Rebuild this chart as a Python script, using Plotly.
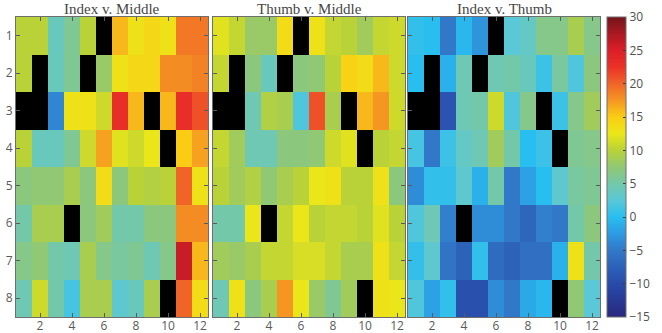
import plotly.graph_objects as go

N = None
titles = ["Index v. Middle", "Thumb v. Middle", "Index v. Thumb"]
cols = list(range(1, 13))
rows = list(range(1, 9))

index_middle = [
    [10, 10, 4, 6, 10, N, 16, 13, 14, 13, 19, 19],
    [10, N, 4, 6, N, 8, 13, 14, 14, 18, 18, 18.5],
    [N, N, -4, 13, 13, 11, 23, 16, N, 16, 23, 21],
    [10, 4, 4, 6, 11, 17, 12, 11, 12.5, N, 15, 17],
    [7, 7.5, 7.5, 9, 7, 13.5, 7, 10, 9.5, 10, 20, 13],
    [5, 9, 9, N, 7, 8.5, 5, 5, 7, 7, 18, 18],
    [6.5, 7.5, 5, 4.5, 9, 6.5, 5.5, 6, 4.5, 6.5, 26, 16],
    [4.5, 11, 5, 1.5, 9, 9, 3, 4, 9, N, 20, 13.5],
]
thumb_middle = [
    [12, 10.5, 8, 8, 13.5, N, 13, 10.5, 10, 8.5, 10.5, 11],
    [10.5, N, 7, 4, N, 7, 7.5, 10, 14.5, 13.5, 16, 11],
    [N, N, 4.5, 9.5, 9, 2, 21, 9, N, 16, 17.5, 11],
    [10.5, 8.5, 4.5, 4.5, 7, 7, 7.5, 11, 12, N, 10, 10.5],
    [10, 8.5, 9.5, 7.5, 9, 10, 12.5, 13, 10, 10, 13, 7],
    [5, 5, 12.5, N, 10.5, 12.5, 10, 10.5, 10.5, 10, 12, 10],
    [8.5, 8, 9, 10.5, 10.5, 11.5, 11.5, 10.5, 9, 9, 13, 10.5],
    [4.5, 13, 7, 9, 17.5, 12.5, 8, 6, 8.5, N, 13, 12.5],
]
index_thumb = [
    [0.5, 0, -5, -0.5, -3, N, 2.5, 3.5, 6.5, 6.5, 9, 6.5],
    [0, N, -1, 4.5, N, 4.5, 5, 4, 1, 5.5, 2, 7],
    [N, N, -9, 4.5, 5, 11, 2, 6.5, N, 1, 6.5, 8.5],
    [1.5, -5, 1, 3.5, 4.5, 8.5, 5, 0, 1, N, 6, 6.5],
    [-3.5, 0.5, 0.5, 3, -1, 5, -5, -2, 0, 3, 5.5, 6],
    [2, 4.5, -4.5, N, -3.5, -3.5, -5, -7, -4.5, -5, 5, 7],
    [0.5, 3, -5.5, -7.5, 0.5, -6.5, -7.5, -6, -6, -1, 13, 5],
    [2, -2, 0.5, -9.5, -9.5, -3.5, -5, -1.5, -0.5, N, 7.5, 2.5],
]
panels = [index_middle, thumb_middle, index_thumb]

cbar_ticks = [30, 25, 20, 15, 10, 5, 0, -5, -10, -15]
cbar_text = ["30", "25", "20", "15", "10", "5", "0", "\u22125", "\u221210", "\u221215"]
zmin, zmax = -15, 30

jet_muted = [
    [0.000, "rgb(40,40,125)"],
    [0.111, "rgb(40,75,170)"],
    [0.222, "rgb(50,120,200)"],
    [0.278, "rgb(45,155,225)"],
    [0.333, "rgb(40,190,240)"],
    [0.389, "rgb(90,200,215)"],
    [0.444, "rgb(115,200,170)"],
    [0.500, "rgb(145,200,115)"],
    [0.556, "rgb(185,210,55)"],
    [0.611, "rgb(235,230,25)"],
    [0.667, "rgb(250,205,20)"],
    [0.722, "rgb(245,150,35)"],
    [0.778, "rgb(240,100,40)"],
    [0.833, "rgb(235,50,40)"],
    [0.889, "rgb(220,30,40)"],
    [0.944, "rgb(170,25,35)"],
    [1.000, "rgb(115,20,25)"],
]

W, H = 662, 333
fig = go.Figure()
xdom_px = [(16, 208), (213, 405), (408, 600)]
top_px, bot_px = 17, 317
ydom = [1 - bot_px / H, 1 - top_px / H]

for i, (z, title) in enumerate(zip(panels, titles)):
    n = i + 1
    xa = "x" if n == 1 else f"x{n}"
    ya = "y" if n == 1 else f"y{n}"
    fig.add_trace(go.Heatmap(
        z=z, x=cols, y=rows, zmin=zmin, zmax=zmax, colorscale=jet_muted,
        xaxis=xa, yaxis=ya, showscale=(n == 3), hoverongaps=False,
        colorbar=dict(
            x=607 / W, xanchor="left", xpad=0, thickness=19,
            lenmode="pixels", len=bot_px - top_px,
            y=1 - (top_px + bot_px) / 2 / H, yanchor="middle",
            ypad=0, tickvals=cbar_ticks, ticktext=cbar_text,
            ticks="inside", ticklen=3,
            tickcolor="rgb(60,60,60)", outlinecolor="rgb(110,110,110)",
            outlinewidth=1, tickfont=dict(family="Open Sans", size=12,
                                          color="rgb(80,80,80)"),
        ),
    ))
    d0, d1 = xdom_px[i]
    axkw = dict(showline=True, linecolor="rgb(110,110,110)", linewidth=1,
                mirror="ticks", ticks="inside", ticklen=4,
                tickcolor="rgb(90,90,90)", showgrid=False, zeroline=False,
                tickfont=dict(family="Open Sans", size=12,
                              color="rgb(90,90,90)"))
    fig.layout[f"xaxis{n if n > 1 else ''}"] = dict(
        domain=[d0 / W, d1 / W], anchor=ya, range=[0.5, 12.5],
        tickvals=[2, 4, 6, 8, 10, 12], ticklabelstandoff=-2, **axkw)
    fig.layout[f"yaxis{n if n > 1 else ''}"] = dict(
        domain=ydom, anchor=xa, range=[8.5, 0.5],
        tickvals=rows, showticklabels=(n == 1), **axkw)
    fig.add_annotation(
        text=title, x=(d0 + d1) / 2 / W, y=1 - 9 / H, xref="paper",
        yref="paper", showarrow=False, xanchor="center", yanchor="middle",
        font=dict(family="Liberation Serif", size=15, color="rgb(70,70,70)"))

fig.update_layout(
    width=W, height=H, margin=dict(l=0, r=0, t=0, b=0),
    paper_bgcolor="white", plot_bgcolor="black", showlegend=False,
)
fig.write_html(
    "out.html",
    config={"displayModeBar": False},
    post_script="document.body.style.margin='0';document.body.style.overflow='hidden';",
)
